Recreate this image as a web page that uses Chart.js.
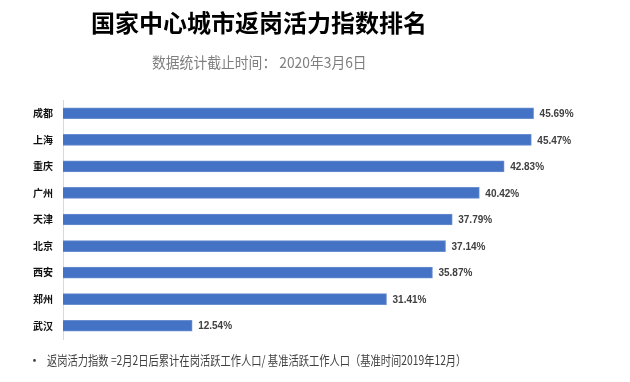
<!DOCTYPE html>
<html><head><meta charset="utf-8">
<script src="https://cdn.jsdelivr.net/npm/chart.js@4/dist/chart.umd.min.js"></script>
<style>
html,body{margin:0;padding:0;background:#fff;width:630px;height:382px;overflow:hidden;font-family:"Noto Sans CJK SC",sans-serif;}
#wrap{position:relative;width:630px;height:382px;}
canvas{position:absolute;left:0;top:0;}
.t{position:absolute;white-space:nowrap;}
#title{left:0;width:518px;text-align:center;top:5px;font-size:24px;font-weight:bold;color:#000;line-height:34px;}
#sub{left:152px;top:50px;font-size:15px;color:#7f7f7f;line-height:24px;transform-origin:0 50%;transform:scaleX(0.92);}
#bullet{left:28px;top:350px;font-size:13px;color:#404040;line-height:20px;}
#foot{left:47px;top:350px;font-size:13px;color:#404040;line-height:20px;transform-origin:0 50%;transform:scaleX(0.79);}
</style></head>
<body><div id="wrap">
<canvas id="c" width="630" height="382"></canvas>
<div class="t" id="title">国家中心城市返岗活力指数排名</div>
<div class="t" id="sub">数据统计截止时间： 2020年3月6日</div>
<div class="t" id="bullet">•</div>
<div class="t" id="foot">返岗活力指数 =2月2日后累计在岗活跃工作人口/ 基准活跃工作人口（基准时间2019年12月）</div>
</div>
<script>
const cities = ["成都","上海","重庆","广州","天津","北京","西安","郑州","武汉"];
const values = [45.69,45.47,42.83,40.42,37.79,37.14,35.87,31.41,12.54];
const valueLabels = ["45.69%","45.47%","42.83%","40.42%","37.79%","37.14%","35.87%","31.41%","12.54%"];

const labelPlugin = {
  id:'barLabels',
  afterDatasetsDraw(chart){
    const ctx = chart.ctx;
    const meta = chart.getDatasetMeta(0);
    ctx.save();
    ctx.font = 'bold 10px "Liberation Sans", sans-serif';
    ctx.fillStyle = '#404040';
    ctx.textAlign = 'left';
    ctx.textBaseline = 'middle';
    meta.data.forEach((bar,i)=>{
      ctx.fillText(valueLabels[i], bar.x + 6, bar.y + 1);
    });
    ctx.restore();
  }
};

new Chart(document.getElementById('c'), {
  type:'bar',
  data:{labels:cities, datasets:[{data:values, backgroundColor:'#4472C4', borderColor:'#6A8FD0', borderWidth:1, barThickness:11}]},
  options:{
    indexAxis:'y', responsive:false, animation:false,
    layout:{padding:{left:0,right:52,top:100,bottom:43}},
    plugins:{legend:{display:false}, tooltip:{enabled:false}},
    scales:{
      x:{display:false, min:0, max:50},
      y:{
        afterFit(s){ s.width = 63; },
        grid:{display:false, drawTicks:false},
        border:{display:true,color:'#d9d9d9',width:1},
        ticks:{padding:10, color:'#111', font:{family:'"Noto Sans CJK SC", sans-serif', size:10, weight:'bold'}}
      }
    }
  },
  plugins:[labelPlugin]
});
</script>
</body></html>
